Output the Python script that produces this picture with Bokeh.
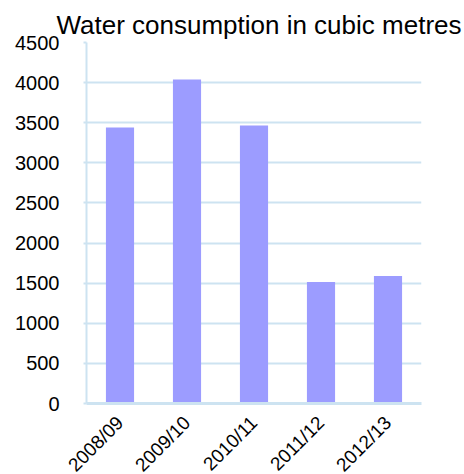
import math
from bokeh.plotting import figure
from bokeh.models import ColumnDataSource, FactorRange, Range1d, FixedTicker, Title
from bokeh.embed import file_html
from bokeh.resources import INLINE

years = ["2008/09", "2009/10", "2010/11", "2011/12", "2012/13"]
consumption = [3440, 4040, 3465, 1515, 1590]
y_ticks = [0, 500, 1000, 1500, 2000, 2500, 3000, 3500, 4000, 4500]

src = ColumnDataSource(dict(x=years, top=consumption))

p = figure(x_range=FactorRange(*years, range_padding=0), y_range=Range1d(0, 4500),
           frame_width=335, frame_height=361, output_backend="svg", toolbar_location=None,
           min_border_left=86, min_border_right=43, min_border_bottom=71, min_border_top=42)
p.title = None
t = Title(text="Water consumption in cubic metres", text_font="Liberation Sans",
          text_font_size="26px", text_font_style="normal", text_color="#000000",
          align="right", offset=-40, standoff=6)
p.add_layout(t, "above")

p.vbar(x="x", top="top", width=0.42, source=src, color="#9c9cff", line_color=None)

grid_col = "#cde3f1"
p.xgrid.grid_line_color = None
p.ygrid.grid_line_color = grid_col
p.ygrid.grid_line_width = 2
p.outline_line_color = None

p.yaxis.ticker = FixedTicker(ticks=y_ticks)
p.yaxis.axis_line_color = grid_col
p.yaxis.axis_line_width = 2
p.yaxis.major_tick_line_color = grid_col
p.yaxis.major_tick_line_width = 2
p.yaxis.major_tick_out = 3
p.yaxis.major_tick_in = 0
p.yaxis.minor_tick_line_color = None
p.yaxis.major_label_standoff = 24
p.yaxis.major_label_text_font = "Liberation Sans"
p.yaxis.major_label_text_font_size = "20px"
p.yaxis.major_label_text_color = "#000000"

p.xaxis.axis_line_color = grid_col
p.xaxis.axis_line_width = 3
p.xaxis.major_tick_line_color = None
p.xaxis.minor_tick_line_color = None
p.xaxis.major_label_orientation = math.pi / 4
p.xaxis.major_label_standoff = 10
p.xaxis.major_label_text_font = "Liberation Sans"
p.xaxis.major_label_text_font_size = "19px"
p.xaxis.major_label_text_color = "#000000"

open("out.html", "w").write(file_html(p, INLINE))
